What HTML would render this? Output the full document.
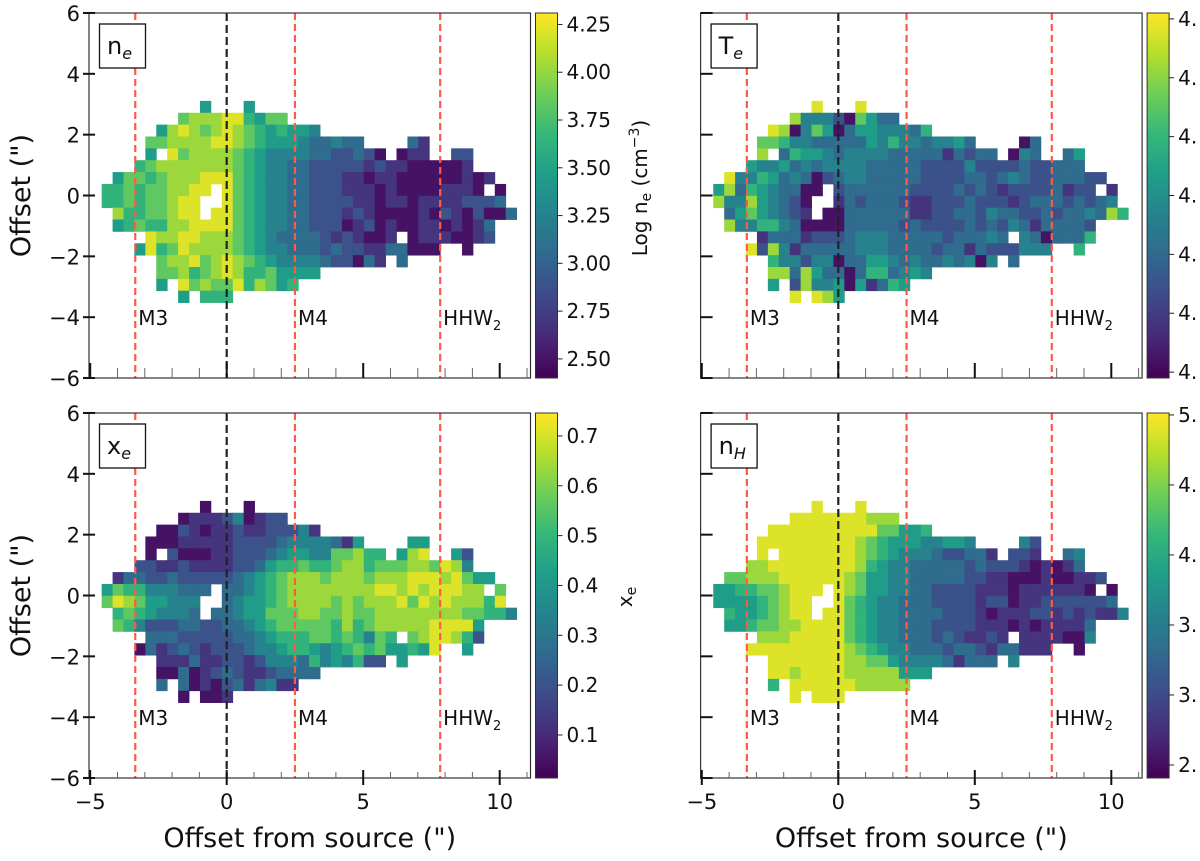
<!DOCTYPE html>
<html><head><meta charset="utf-8">
<style>
html,body{margin:0;padding:0;background:#fff;overflow:hidden;width:1200px;height:861px}
svg{display:block;font-family:"DejaVu Sans","Liberation Sans",sans-serif}
</style></head>
<body>
<svg id="fig" width="1200" height="861" viewBox="0 0 1200 861" xmlns="http://www.w3.org/2000/svg">
<defs>
<linearGradient id="viridis" x1="0" y1="1" x2="0" y2="0">
<stop offset="0" stop-color="#440154"/><stop offset="0.111" stop-color="#482878"/><stop offset="0.222" stop-color="#3e4a89"/><stop offset="0.333" stop-color="#31688e"/><stop offset="0.444" stop-color="#26828e"/><stop offset="0.556" stop-color="#1f9e89"/><stop offset="0.667" stop-color="#35b779"/><stop offset="0.778" stop-color="#6ece58"/><stop offset="0.889" stop-color="#b5de2b"/><stop offset="1" stop-color="#fde725"/>
</linearGradient>
</defs>
<g id="layer"></g>
</svg>
<script>
// ---- data (level codes 0-9 per 0.4" pixel; '.' = no data). each row: [startColumn, codes]
const neRows = [[9,"5...5"],[7,"7888996577"],[5,"589878987656554"],[4,"77888899876555433433....31"],[4,"5.97888876544443322320.011..22"],[3,"6788888887654433222221211000001"],[1,"57767888999765443322211011000000101"],[0,"6676778899.976544332221110100001110.0"],[0,"667677899..97654433222211011011112223"],[1,"86677899.9976544332221210000102102003"],[1,"56766889999765443322201201001101013"],[4,"98899888765433332121001.01110012"],[3,"5967988887654433323221133000..0"],[5,"788978987654444322031.3"],[5,"778678986675555"],[5,"5.97877968756"],[7,"5.666"]];
const teRows = [[9,"9...9"],[7,"8444207533"],[5,"980475035544436"],[4,"77644333335464434453....03"],[4,"8.36554344443333313233.043..35"],[3,"5445343444433333222242222322333"],[1,"94465343023443333322223323432233322"],[0,"5836543300.233333322223232122223122.1"],[0,"844854320..13233321122232221233323234"],[1,"35754321.0033333311223324332232334386"],[1,"8446643000033333232222323243133332"],[4,"13331222344433333233343.4303336"],[3,"9284133333444333323313222444..6"],[5,"644244033554343343404.3"],[5,"883853303663454"],[5,"5.28445051365"],[7,"9.985"]];
const xeRows = [[9,"0...0"],[7,"0111240122"],[5,"002101121122241"],[4,"00011111222234444315....55"],[4,"0.20001122234554477866.589..52"],[3,"2211211112235667667886777887984"],[1,"13322322222345678887888788899989755"],[0,"5766444333.334567888888889989899988.7"],[0,"798755444..34556788887878889798988869"],[1,"67654443.3345577788778778888888877664"],[1,"7642223322334567777768678888899995"],[4,"33322222334566677676476.7899862"],[3,"0312321222344566545676755659..5"],[5,"111311221244436454622.5"],[5,"003012321123333"],[5,"3.30102313411"],[7,"0.001"]];
const nhRows = [[9,"9...9"],[7,"9999999888"],[5,"999999999977556"],[4,"99999999987655544554....42"],[4,"9.99999998765444322331.221..34"],[3,"8899999999865443333323222101013"],[1,"77888999999875544333332211000100112"],[0,"5566778999.987554433222211101111110.0"],[0,"555567899..97654433322221220112222223"],[1,"65567899.9976544333322210111221212114"],[1,"5567788999976544333222211101011113"],[4,"88899999765443332321121.1111004"],[3,"9999999998765443332332133111..0"],[5,"999999988775444431333.4"],[5,"998999988888555"],[5,"6.99999988888"],[7,"9.999"]];
const neTicks = [4.25,4.00,3.75,3.50,3.25,3.00,2.75,2.50];
const neTickLabels = ["4.25","4.00","3.75","3.50","3.25","3.00","2.75","2.50"];
const teTicks = [4.30,4.25,4.20,4.15,4.10,4.05,4.00];
const teTickLabels = ["4.","4.","4.","4.","4.","4.","4."];
const xeTicks = [0.7,0.6,0.5,0.4,0.3,0.2,0.1];
const xeTickLabels = ["0.7","0.6","0.5","0.4","0.3","0.2","0.1"];
const nhTicks = [5.0,4.5,4.0,3.5,3.0,2.5];
const nhTickLabels = ["5.","4.","4.","3.","3.","2."];
const xTicks = [-5,0,5,10];
const yTicks = [6,4,2,0,-2,-4,-6];
const markerX = [-3.35,2.5,7.82];
const markerNames = ["M3","M4","HHW"];
const sourceX = [0];

const NS="http://www.w3.org/2000/svg";
const layer=document.getElementById('layer');
const X0=-4.58, DXC=0.4, Y0=3.11, DYC=0.39;
const VIR=["#440154","#482878","#3e4a89","#31688e","#26828e","#1f9e89","#35b779","#6ece58","#b5de2b","#fde725"];
function hex(h){return [parseInt(h.substr(1,2),16),parseInt(h.substr(3,2),16),parseInt(h.substr(5,2),16)];}
function viridis(t){t=Math.max(0,Math.min(1,t));const f=t*9,i=Math.min(8,Math.floor(f)),u=f-i;const a=hex(VIR[i]),b=hex(VIR[i+1]);return "rgb("+a.map((c,k)=>Math.round(c+(b[k]-c)*u)).join(",")+")";}
function el(tag,attrs,parent){const e=document.createElementNS(NS,tag);for(const k in attrs)e.setAttribute(k,attrs[k]);(parent||layer).appendChild(e);return e;}

const panels=[
 {ox:0,oy:0,rows:neRows,vmin:2.40,vmax:4.31,ticks:neTicks,labels:neTickLabels,name:"ne",sym:"n",sub:"e",left:true,bottom:false},
 {ox:611.6,oy:0,rows:teRows,vmin:3.995,vmax:4.305,ticks:teTicks,labels:teTickLabels,name:"te",sym:"T",sub:"e",left:false,bottom:false},
 {ox:0,oy:400,rows:xeRows,vmin:0.0137,vmax:0.746,ticks:xeTicks,labels:xeTickLabels,name:"xe",sym:"x",sub:"e",left:true,bottom:true},
 {ox:611.6,oy:400,rows:nhRows,vmin:2.407,vmax:5.014,ticks:nhTicks,labels:nhTickLabels,name:"nh",sym:"n",sub:"H",left:false,bottom:true}
];

panels.forEach(p=>{
 const PX=v=>p.ox+226.7+v*27.3, PY=v=>p.oy+195.5-v*30.42;
 const L=p.ox+89, R=p.ox+530.5, T=p.oy+13, B=p.oy+378;
 const g=el('g',{});
 
 
 p.rows.forEach((row,r)=>{
  const start=row[0], codes=row[1];
  for(let i=0;i<codes.length;i++){
   const ch=codes[i]; if(ch==='.') continue;
   const c=start+i, d=+ch;
   const v=p.vmin+(d+0.5)/10*(p.vmax-p.vmin);
   const x=PX(X0+c*DXC), y=PY(Y0-r*DYC);
   const rc=el('rect',{x:x.toFixed(2),y:y.toFixed(2),width:(DXC*27.3+0.4).toFixed(2),height:(DYC*30.42+0.4).toFixed(2),fill:viridis((v-p.vmin)/(p.vmax-p.vmin))},g);
   
   
  }
 });
 markerX.forEach((mx,k)=>{
  const ln=el('line',{x1:PX(mx),x2:PX(mx),y1:T,y2:B,stroke:'#ff5a45','stroke-width':2.2,'stroke-dasharray':'7,4'},g);
  
  
  const t=el('text',{x:PX(mx)+3,y:PY(-4)+8,'font-size':20,fill:'#111'},g);
  
  
  t.textContent=markerNames[k];
  if(markerNames[k]==="HHW"){const s=el('tspan',{'font-size':13,dy:5},t);s.textContent="2";}
 });
 sourceX.forEach(sx=>{
  const ln=el('line',{x1:PX(sx),x2:PX(sx),y1:T,y2:B,stroke:'#222','stroke-width':2.2,'stroke-dasharray':'8,4'},g);
  
  
 });
 const fr=el('rect',{x:L,y:T,width:R-L,height:B-T,fill:'none',stroke:'#333','stroke-width':1.2},g);
 
 
 for(let v=-5;v<=11;v++){
  if(v%5===0) continue;
  const tk=el('line',{x1:PX(v),x2:PX(v),y1:B,y2:B-(p.bottom?6:10),stroke:'#666','stroke-width':1},g);
  
  
 }
 xTicks.forEach(v=>{
  const tk=el('line',{x1:PX(v),x2:PX(v),y1:p.bottom?B+7:B,y2:p.bottom?B-8:B-15,stroke:'#111','stroke-width':2},g);
  
  
  if(p.bottom){
   const t=el('text',{x:PX(v),y:B+31,'font-size':21,'text-anchor':'middle',fill:'#111'},g);
   
   
   t.textContent=(v<0?'\u2212'+(-v):''+v);
  }
 });
 yTicks.forEach(v=>{
  const tk=el('line',{x1:p.left?L-6:L,x2:p.left?L+6:L+12,y1:PY(v),y2:PY(v),stroke:'#111','stroke-width':2},g);
  
  
  if(p.left){
   const t=el('text',{x:L-9,y:PY(v)+8,'font-size':21,'text-anchor':'end',fill:'#111'},g);
   
   
   t.textContent=(v<0?'\u2212'+(-v):''+v);
  }
 });
 const bx=el('rect',{x:L+10.5,y:T+11,width:46,height:44,fill:'#fff',stroke:'#111','stroke-width':1.3},g);
 
 
 const pt=el('text',{x:L+18,y:T+41,'font-size':24,fill:'#111'},g);
 
 
 pt.textContent=p.sym;
 const ps=el('tspan',{'font-size':16,'font-style':'italic',dy:5},pt);ps.textContent=p.sub;
 if(p.left){
  const yl=el('text',{x:0,y:0,'font-size':27,'text-anchor':'middle',fill:'#111',transform:`translate(30,${p.oy+195.5}) rotate(-90)`},g);
  
  
  yl.textContent='Offset (")';
 }
 if(p.bottom){
  const xl=el('text',{x:(L+R)/2,y:847,'font-size':27,'text-anchor':'middle',fill:'#111'},g);
  
  
  xl.textContent='Offset from source (")';
 }
 const cL=p.ox+535.5, cW=22;
 const cb=el('rect',{x:cL,y:T,width:cW,height:B-T,fill:'url(#viridis)',stroke:'#333','stroke-width':1},g);
 
 
 const CY=v=>T+(p.vmax-v)/(p.vmax-p.vmin)*(B-T);
 p.ticks.forEach((v,k)=>{
  const tk=el('line',{x1:cL+cW,x2:cL+cW+5,y1:CY(v),y2:CY(v),stroke:'#222','stroke-width':1},g);
  
  
  const t=el('text',{x:cL+cW+9,y:CY(v)+7,'font-size':20,fill:'#111'},g);
  
  
  t.textContent=p.labels[k];
 });
 if(p.name==='ne'){
  const t=el('text',{x:0,y:0,'font-size':20,'text-anchor':'middle',fill:'#111',transform:`translate(647,${p.oy+188}) rotate(-90)`},g);
  
  
  t.textContent='Log n';
  const s1=el('tspan',{'font-size':14,dy:4},t);s1.textContent='e';
  const s2=el('tspan',{dy:-4},t);s2.textContent=' (cm';
  const s3=el('tspan',{'font-size':14,dy:-8},t);s3.textContent='\u22123';
  const s4=el('tspan',{dy:8},t);s4.textContent=')';
 }
 if(p.name==='xe'){
  const t=el('text',{x:0,y:0,'font-size':20,'text-anchor':'middle',fill:'#111',transform:`translate(632,${597}) rotate(-90)`},g);
  
  
  t.textContent='x';
  const s1=el('tspan',{'font-size':14,dy:4},t);s1.textContent='e';
 }
});
</script>
</body></html>
